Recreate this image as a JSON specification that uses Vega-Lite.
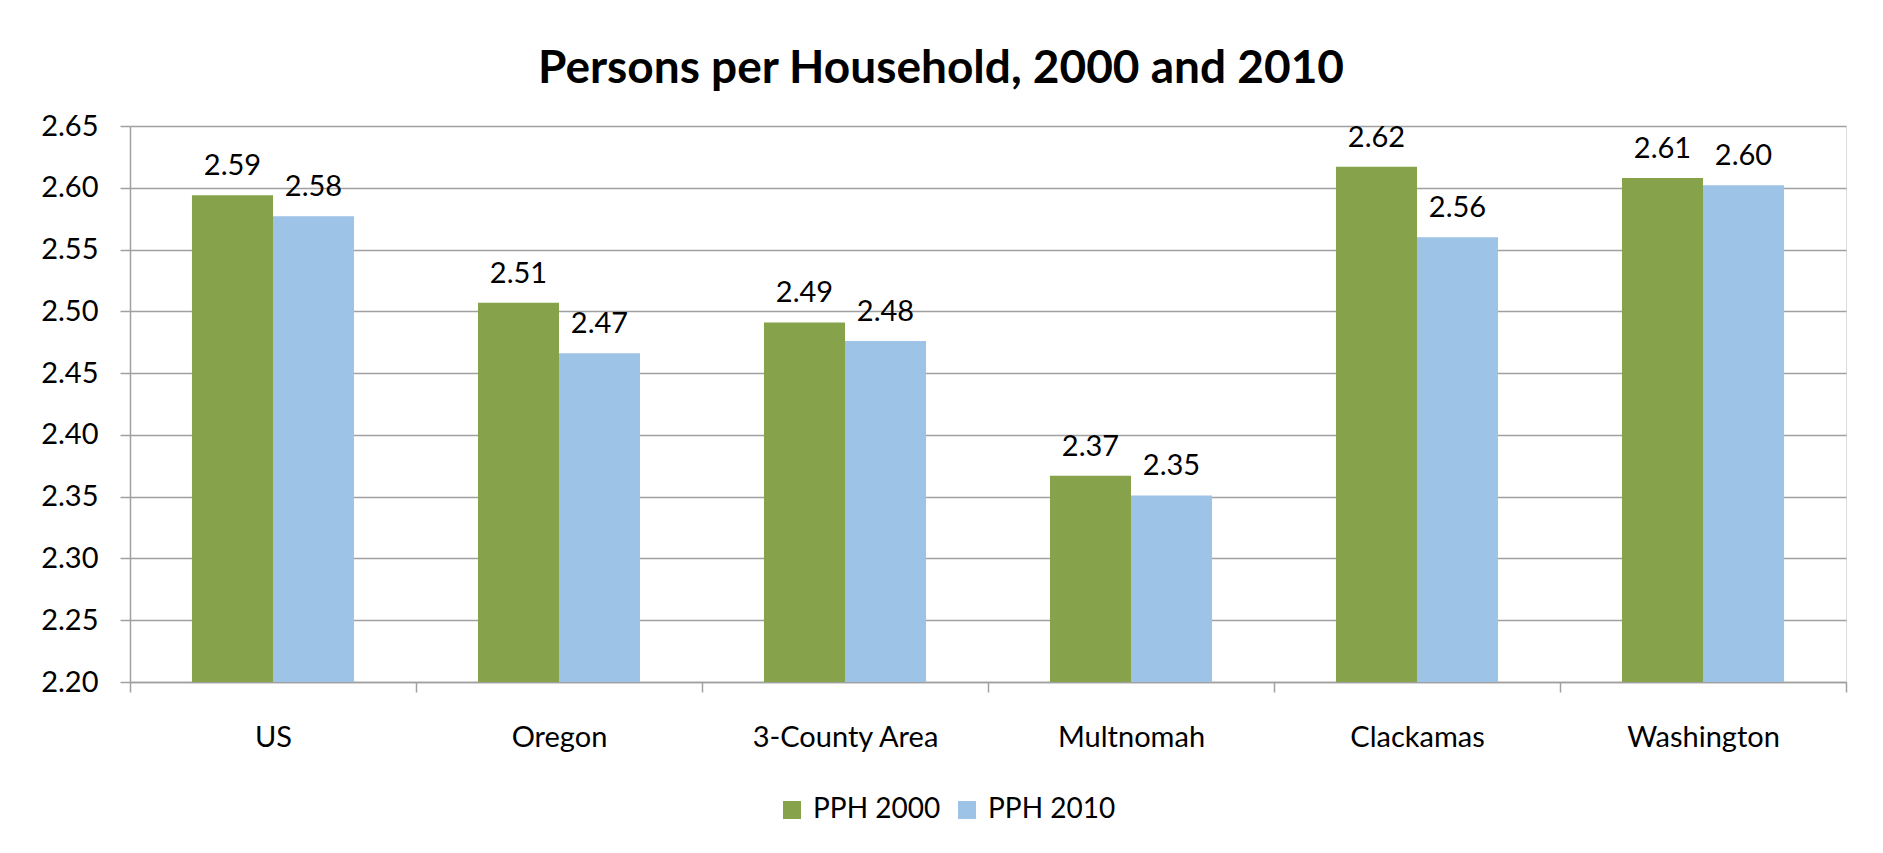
{
  "$schema": "https://vega.github.io/schema/vega-lite/v6.json",
  "width": 1716,
  "height": 556,
  "autosize": {"type": "none"},
  "padding": {"left": 130, "top": 126, "right": 37, "bottom": 171},
  "background": "white",
  "title": {
    "text": "Persons per Household, 2000 and 2010",
    "font": "Lato",
    "fontSize": 46,
    "fontWeight": "bold",
    "color": "#000000",
    "anchor": "middle",
    "dx": -47,
    "baseline": "alphabetic",
    "offset": -17
  },
  "data": {
    "values": [
      {"area": "US", "series": "PPH 2000", "value": 2.594},
      {"area": "US", "series": "PPH 2010", "value": 2.577},
      {"area": "Oregon", "series": "PPH 2000", "value": 2.507},
      {"area": "Oregon", "series": "PPH 2010", "value": 2.466},
      {"area": "3-County  Area", "series": "PPH 2000", "value": 2.491},
      {"area": "3-County  Area", "series": "PPH 2010", "value": 2.476},
      {"area": "Multnomah", "series": "PPH 2000", "value": 2.367},
      {"area": "Multnomah", "series": "PPH 2010", "value": 2.351},
      {"area": "Clackamas", "series": "PPH 2000", "value": 2.617},
      {"area": "Clackamas", "series": "PPH 2010", "value": 2.560},
      {"area": "Washington", "series": "PPH 2000", "value": 2.608},
      {"area": "Washington", "series": "PPH 2010", "value": 2.602}
    ]
  },
  "encoding": {
    "x": {
      "field": "area",
      "type": "nominal",
      "sort": ["US", "Oregon", "3-County  Area", "Multnomah", "Clackamas", "Washington"],
      "scale": {"paddingInner": 0, "paddingOuter": 0},
      "axis": {
        "title": null,
        "labelAngle": 0,
        "labelFont": "Lato",
        "labelFontSize": 29,
        "labelColor": "#000000",
        "labelPadding": 31,
        "labelLimit": 0,
        "tickBand": "extent",
        "tickSize": 10,
        "tickColor": "#A0A0A0",
        "tickWidth": 1.5,
        "domainColor": "#A0A0A0",
        "domainWidth": 1.5,
        "grid": false
      }
    },
    "xOffset": {
      "field": "series",
      "type": "nominal",
      "scale": {"paddingInner": 0, "paddingOuter": 0.765}
    },
    "y": {
      "field": "value",
      "type": "quantitative",
      "scale": {"domain": [2.2, 2.65], "zero": false, "nice": false},
      "axis": {
        "title": null,
        "values": [2.2, 2.25, 2.3, 2.35, 2.4, 2.45, 2.5, 2.55, 2.6, 2.65],
        "format": ".2f",
        "labelFont": "Lato",
        "labelFontSize": 29,
        "labelColor": "#000000",
        "labelPadding": 22,
        "tickSize": 10,
        "tickColor": "#A0A0A0",
        "tickWidth": 1.5,
        "domainColor": "#A0A0A0",
        "domainWidth": 1.5,
        "grid": true,
        "gridColor": "#A0A0A0",
        "gridWidth": 1.5
      }
    }
  },
  "layer": [
    {
      "mark": {"type": "bar"},
      "encoding": {
        "y2": {"datum": 2.2},
        "color": {
          "field": "series",
          "type": "nominal",
          "scale": {"domain": ["PPH 2000", "PPH 2010"], "range": ["#86A34C", "#9DC3E6"]},
          "legend": {
            "title": null,
            "orient": "none",
            "direction": "horizontal",
            "legendX": 648,
            "legendY": 670,
            "padding": 0,
            "symbolType": "square",
            "symbolSize": 324,
            "symbolStrokeWidth": 0,
            "labelFont": "Lato",
            "labelFontSize": 28,
            "labelColor": "#000000",
            "labelOffset": 7,
            "columnPadding": 12
          }
        }
      }
    },
    {
      "mark": {"type": "text", "baseline": "alphabetic", "dy": -20, "font": "Lato", "fontSize": 29, "color": "#000000"},
      "encoding": {
        "text": {"field": "value", "type": "quantitative", "format": ".2f"}
      }
    }
  ]
}
